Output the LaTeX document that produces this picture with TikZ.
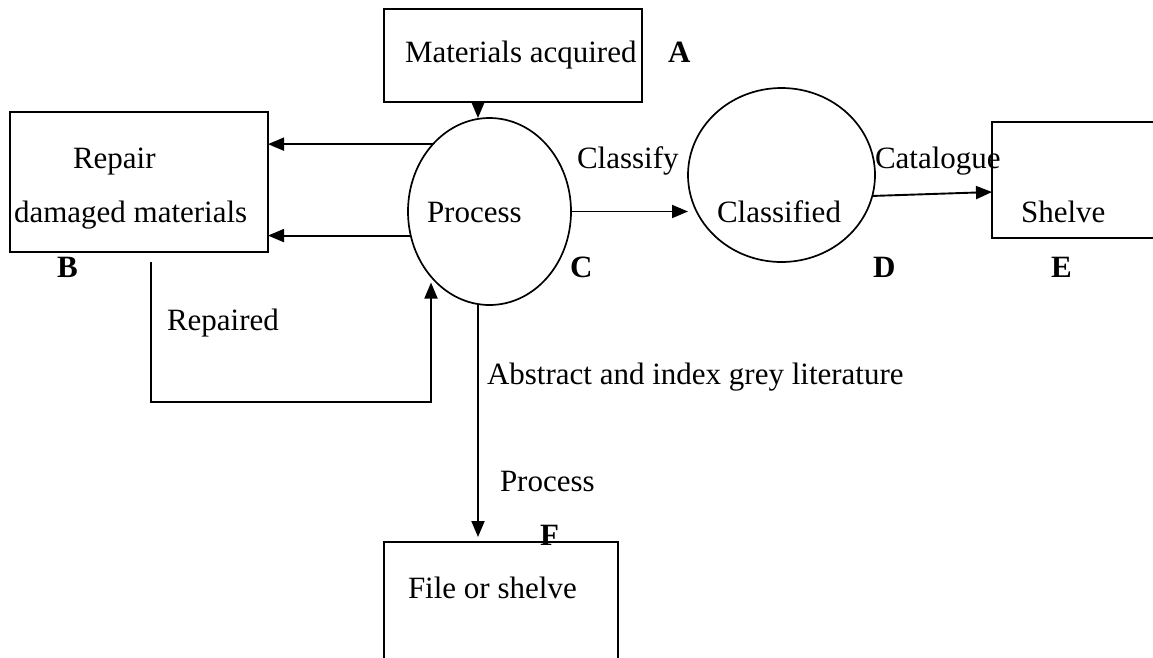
\documentclass[tikz,border=0pt]{standalone}
\usepackage{fontspec}
\setmainfont{Liberation Serif}
\usetikzlibrary{arrows.meta,shapes.geometric,calc}
\begin{document}
\begin{tikzpicture}[x=1pt,y=-1pt,
  every node/.style={inner sep=0pt, outer sep=0pt},
  txt/.style={anchor=base west, font=\fontsize{31}{37}\selectfont},
  tag/.style={anchor=base west, font=\fontsize{31}{37}\selectfont\bfseries},
  box/.style={draw, rectangle, line width=2pt},
  bubble/.style={draw, ellipse, line width=1.7pt},
  arr/.style={line width=1.9pt, -{Triangle[length=16pt,width=13pt]}}]
  \clip (0,0) rectangle (1153,657);

  % stores and processes
  \node[box, minimum width=258pt, minimum height=93pt]  (A) at (513,55.5) {};
  \node[box, minimum width=258pt, minimum height=140pt] (B) at (139,182) {};
  \node[bubble, minimum width=163pt, minimum height=187pt] (C) at (489.5,211.5) {};
  \node[bubble, minimum width=187pt, minimum height=174pt] (D) at (781.5,175) {};
  \node[box, minimum width=173pt, minimum height=116pt] (E) at (1078.5,180) {};
  \node[box, minimum width=234pt, minimum height=158pt] (F) at (501,621) {};

  % texts inside the shapes
  \node[txt] (tA)  at (405,62)  {Materials acquired};
  \node[txt] (tB1) at (73,168)  {Repair};
  \node[txt] (tB2) at (14,222)  {damaged materials};
  \node[txt] (tC)  at (427,222) {Process};
  \node[txt] (tD)  at (717,222) {Classified};
  \node[txt] (tE)  at (1021,222) {Shelve};
  \node[txt] (tF)  at (408,598) {File or shelve};

  % flow labels
  \node[txt] (lClassify)  at (577,168) {Classify};
  \node[txt] (lCatalogue) at (875,168) {Catalogue};
  \node[txt] (lRepaired)  at (167,330) {Repaired};
  \node[txt] (lAbstract)  at (487,384) {Abstract and index grey literature};
  \node[txt] (lProcess)   at (500,491) {Process};

  % letter tags
  \node[tag] (kA) at (668,62)  {A};
  \node[tag] (kB) at (57,277)  {B};
  \node[tag] (kC) at (570,277) {C};
  \node[tag] (kD) at (873,277) {D};
  \node[tag] (kE) at (1051,277) {E};
  \node[tag] (kF) at (540,545) {F};

  % helper points
  \coordinate (xin) at (478,0);
  \coordinate (rp) at (151,262);
  \coordinate (rq) at (431,402);

  % connectors
  \draw[arr] (A.south -| xin) -- (C.north -| xin);
  \draw[arr] (C.130.75) -- (B.east |- C.130.75);
  \draw[arr] (C.197.3) -- (B.east |- C.197.3);
  \draw[arr, shorten >=6pt] (rp) |- (rq) -- (rq |- C.228.1);
  \draw[arr] (C.east) -- (C.east -| D.west);
  \draw[arr] (D.347.6) -- ($(E.west)+(0,12)$);
  \draw[arr, shorten >=5pt] (C.south -| xin) -- (F.north -| xin);
\end{tikzpicture}
\end{document}
